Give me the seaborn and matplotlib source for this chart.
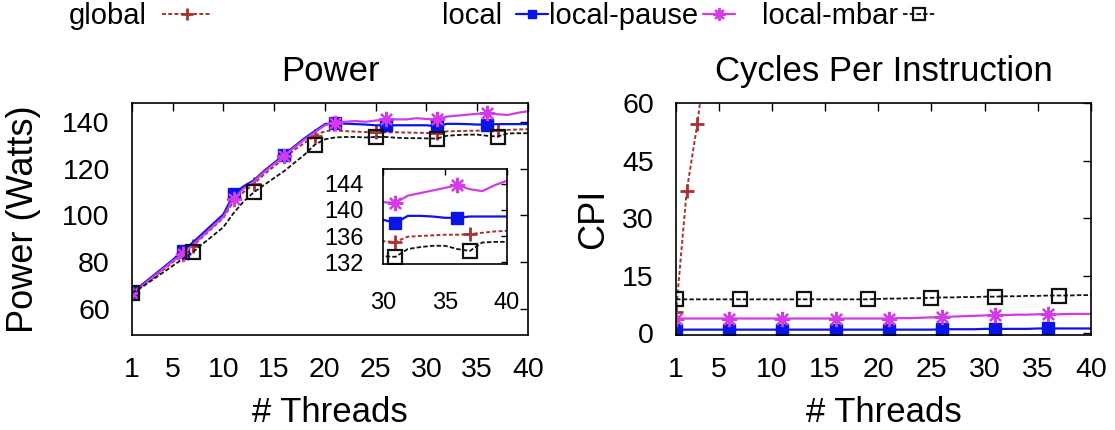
import numpy as np
import pandas as pd
import matplotlib
matplotlib.use("Agg")
import matplotlib.pyplot as plt
from matplotlib.lines import Line2D
import seaborn as sns

# ---------------- data ----------------
threads = list(range(1, 41))

power_global = [67, 70, 73, 76.5, 80, 83.5, 87, 91, 95, 99,
                106, 110, 113.5, 117.5, 121, 124.5, 128, 131, 134, 136,
                136.3, 136, 135.8, 135.6, 135.5, 135.5, 135.5, 135.4, 135.3, 135.2,
                135.1, 135.9, 136, 136.1, 136.2, 136.2, 136.3, 136.5, 136.7, 136.8]
power_local = [67, 70.5, 74, 77.5, 81, 85, 88.5, 92.5, 96.5, 100.5,
               109, 112.5, 115, 119, 122.5, 126, 129.5, 133, 136, 139,
               139.5, 139.2, 139, 138.8, 138.5, 138.5, 138.5, 138.5, 138.5, 138.5,
               138.0, 139.1, 139.1, 139.0, 138.8, 138.8, 139.0, 139.0, 139.0, 139.0]
power_pause = [67, 70, 73.5, 77, 80.5, 83.5, 87.5, 91.5, 95.5, 99.5,
               107, 111.5, 114.5, 118.5, 122, 125.5, 129, 132.5, 135.5, 138.5,
               139.6, 140, 140.3, 140, 140.5, 141, 141, 141, 141.5, 141.2,
               141.1, 142.2, 142.6, 143, 143.4, 143.8, 143.2, 142.9, 143.8, 144.5]
power_mbar = [67, 69.5, 72.5, 75.5, 78.5, 81.5, 84.4, 88, 91.5, 95,
              101, 106, 109.9, 113, 116, 119, 122.5, 126, 130.2, 132.5,
              133.3, 133.5, 133.5, 133.3, 133.5, 133.5, 133.2, 133.0, 133.0, 132.9,
              132.8, 134.0, 134.3, 134.5, 134.5, 134.0, 133.7, 135.0, 135.1, 135.1]

cpi_global_threads = [1, 2, 3, 4]
cpi_global = [5.5, 37, 54.5, 76]
cpi_local = [0.9, 0.9, 0.9, 0.9, 0.9, 0.9, 0.9, 0.9, 0.9, 0.9,
             0.9, 0.9, 0.9, 0.9, 0.9, 0.9, 0.9, 0.9, 0.9, 0.9,
             0.9, 0.9, 0.9, 0.9, 0.9, 1.0, 1.0, 1.0, 1.0, 1.1,
             1.1, 1.1, 1.1, 1.1, 1.2, 1.2, 1.2, 1.2, 1.2, 1.2]
cpi_pause = [3.8, 3.8, 3.8, 3.8, 3.8, 3.8, 3.8, 3.8, 3.8, 3.8,
             3.8, 3.8, 3.8, 3.8, 3.8, 3.8, 3.8, 3.8, 3.8, 3.8,
             3.8, 3.9, 3.9, 4.0, 4.1, 4.2, 4.3, 4.4, 4.5, 4.6,
             4.7, 4.7, 4.8, 4.8, 4.9, 4.9, 4.9, 5.0, 5.0, 5.0]
cpi_mbar = [8.8, 8.8, 8.8, 8.8, 8.8, 8.8, 8.8, 8.8, 8.8, 8.8,
            8.8, 8.8, 8.8, 8.8, 8.8, 8.8, 8.8, 8.8, 8.8, 8.9,
            9.0, 9.0, 9.1, 9.1, 9.2, 9.3, 9.3, 9.4, 9.4, 9.5,
            9.5, 9.6, 9.6, 9.7, 9.7, 9.8, 9.8, 9.8, 9.9, 9.9]

series_names = ["global", "local", "local-pause", "local-mbar"]
x_ticks = [1, 5, 10, 15, 20, 25, 30, 35, 40]
power_ticks = [60, 80, 100, 120, 140]
inset_yticks = [132, 136, 140, 144]
inset_xticks = [30, 35, 40]
cpi_ticks = [0, 15, 30, 45, 60]

# ---------------- styles ----------------
sns.set_style("white")
plt.rcParams['font.family'] = ['Liberation Sans', 'DejaVu Sans']
plt.rcParams['text.color'] = 'black'
plt.rcParams['axes.labelcolor'] = 'black'
plt.rcParams['xtick.color'] = 'black'
plt.rcParams['ytick.color'] = 'black'

C_GLOBAL = "#a83232"
C_LOCAL = "#0a14e6"
C_PAUSE = "#d23be6"
C_MBAR = "#111111"
STAR = (8, 2, 0)

styles = {
    "global": dict(color=C_GLOBAL, marker="+", ms=10, mew=2.0, lw=1.4, dash=(2.0, 1.2), mfc=C_GLOBAL),
    "local": dict(color=C_LOCAL, marker="s", ms=8, mew=1.0, lw=1.6, dash=None, mfc=C_LOCAL),
    "local-pause": dict(color=C_PAUSE, marker=STAR, ms=11, mew=1.6, lw=1.6, dash=None, mfc=C_PAUSE),
    "local-mbar": dict(color=C_MBAR, marker="s", ms=10, mew=1.6, lw=1.3, dash=(2.5, 1.2), mfc="none"),
}


def draw(ax, x, y, name, markevery):
    st = styles[name]
    sns.lineplot(x=x, y=y, ax=ax, color=st["color"], marker=st["marker"],
                 markersize=st["ms"], markeredgewidth=st["mew"],
                 markeredgecolor=st["color"], markerfacecolor=st["mfc"],
                 linewidth=st["lw"], markevery=markevery, estimator=None,
                 sort=False, legend=False, clip_on=True)
    line = ax.lines[-1]
    if st["dash"] is not None:
        line.set_dashes(st["dash"])


FS = 20.5
FS_LAB = 25
FS_YLAB = 26
fig = plt.figure(figsize=(11.15, 4.3), dpi=100)
W, H = 1115, 430


def rect(x0, y0, x1, y1):
    return [x0 / W, 1 - y1 / H, (x1 - x0) / W, (y1 - y0) / H]


ax1 = fig.add_axes(rect(132, 103, 528, 335))
ax2 = fig.add_axes(rect(676, 103, 1091, 335))
axi = fig.add_axes(rect(383, 169, 507, 264))

# power main
draw(ax1, threads, power_global, "global", 6)
draw(ax1, threads, power_local, "local", 5)
draw(ax1, threads, power_pause, "local-pause", 5)
draw(ax1, threads, power_mbar, "local-mbar", 6)
ax1.set_xlim(1, 40)
ax1.set_ylim(49, 148)
ax1.set_xticks(x_ticks)
ax1.set_yticks(power_ticks)
ax1.set_title("Power", fontsize=FS_LAB, pad=16)
ax1.set_xlabel("# Threads", fontsize=FS_LAB, labelpad=9)
ax1.set_ylabel("Power (Watts)", fontsize=FS_YLAB, labelpad=15)

# inset
draw(axi, threads, power_global, "global", 6)
draw(axi, threads, power_local, "local", 5)
draw(axi, threads, power_pause, "local-pause", 5)
draw(axi, threads, power_mbar, "local-mbar", 6)
axi.set_xlim(30, 40)
axi.set_ylim(131.7, 146.3)
axi.set_xticks(inset_xticks)
axi.set_yticks(inset_yticks)
axi.set_xlabel("")
axi.set_ylabel("")

# CPI
draw(ax2, cpi_global_threads, cpi_global, "global", 1)
draw(ax2, threads, cpi_local, "local", 5)
draw(ax2, threads, cpi_pause, "local-pause", 5)
draw(ax2, threads, cpi_mbar, "local-mbar", 6)
ax2.set_xlim(1, 40)
ax2.set_ylim(-0.5, 60)
ax2.set_xticks(x_ticks)
ax2.set_yticks(cpi_ticks)
ax2.set_title("Cycles Per Instruction", fontsize=FS_LAB, pad=16)
ax2.set_xlabel("# Threads", fontsize=FS_LAB, labelpad=9)
ax2.set_ylabel("CPI", fontsize=FS_YLAB, labelpad=8)

for ax in (ax1, ax2):
    ax.tick_params(direction="in", top=True, right=True, length=6, width=1,
                   labelsize=FS, colors="black")
    ax.tick_params(axis="x", pad=16)
    ax.tick_params(axis="y", pad=16)
    for s in ax.spines.values():
        s.set_color("black")
        s.set_linewidth(1.2)
axi.tick_params(direction="in", top=True, right=True, length=4, width=1,
                labelsize=17, colors="black")
axi.tick_params(axis="y", pad=14)
axi.tick_params(axis="x", pad=20)
for s in axi.spines.values():
    s.set_color("black")
    s.set_linewidth(1.2)

# legend: gnuplot-style key, one entry each
legend_right = [212, 548, 735, 935]
legend_hlen = [1.7, 1.1, 1.1, 1.1]
legend_pad = [0.54, 0.47, 0.18, 0.18]
for name, xr, hl, hp in zip(series_names, legend_right, legend_hlen, legend_pad):
    st = styles[name]
    h = Line2D([], [], color=st["color"], marker=st["marker"], markersize=st["ms"] * 0.8,
               markeredgewidth=st["mew"], markeredgecolor=st["color"],
               markerfacecolor=st["mfc"], linewidth=st["lw"])
    if st["dash"] is not None:
        h.set_dashes(st["dash"])
    fig.legend(handles=[h], labels=[name], loc="center right",
               bbox_to_anchor=(xr / W, 1 - 16 / H), markerfirst=False,
               frameon=False, fontsize=21, handlelength=hl, handletextpad=hp,
               borderaxespad=0, borderpad=0, labelcolor="black")

fig.savefig("out.png", dpi=100)
